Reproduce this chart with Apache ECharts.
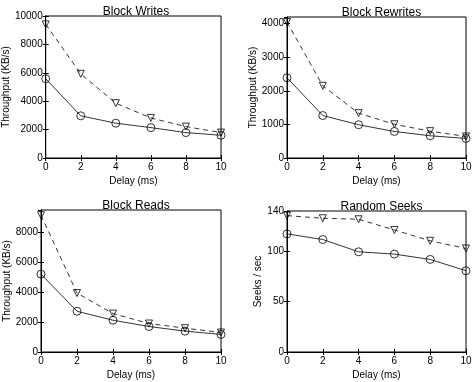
<!DOCTYPE html>
<html>
<head>
<meta charset="utf-8">
<script src="https://cdn.jsdelivr.net/npm/echarts@6/dist/echarts.min.js"></script>
<style>
  html, body { margin: 0; padding: 0; background: #fff; }
  #chart { width: 476px; height: 382px; }
</style>
</head>
<body>
<div id="chart"></div>
<script>
const delays = [0, 2, 4, 6, 8, 10];

const titles = ['Block Writes', 'Block Rewrites', 'Block Reads', 'Random Seeks'];
const yNames = ['Throughput (KB/s)', 'Throughput (KB/s)', 'Throughput (KB/s)', 'Seeks / sec'];

const writesCircle = [5580, 2970, 2450, 2140, 1790, 1600];
const writesTriangle = [9410, 5930, 3860, 2820, 2210, 1790];
const rewritesCircle = [2390, 1265, 990, 790, 662, 583];
const rewritesTriangle = [4050, 2150, 1335, 1005, 800, 642];
const readsCircle = [5210, 2725, 2125, 1705, 1395, 1175];
const readsTriangle = [9150, 3945, 2570, 1905, 1595, 1305];
const seeksCircle = [117.3, 111.7, 99.5, 97.2, 91.9, 80.7];
const seeksTriangle = [135.4, 132.8, 131.8, 121.2, 110.4, 102.8];

const yMax = [10000, 4200, 9500, 140];
const yStep = [2000, 1000, 2000, 50];

const circleData = [writesCircle, rewritesCircle, readsCircle, seeksCircle];
const triangleData = [writesTriangle, rewritesTriangle, readsTriangle, seeksTriangle];

const grids = [
    { left: 41, top: 16, width: 180, height: 142 },
    { left: 287, top: 17, width: 179, height: 141 },
    { left: 41, top: 210, width: 180, height: 142 },
    { left: 287, top: 211, width: 179, height: 141 }
];
const yNameGaps = [27, 26, 27, 18];

const font = 'Liberation Sans, Arial, Helvetica, sans-serif';
const chart = echarts.init(document.getElementById('chart'));

const option = {
    animation: false,
    backgroundColor: '#fff',
    title: [],
    grid: [],
    xAxis: [],
    yAxis: [],
    series: []
};

grids.forEach((g, i) => {
    option.grid.push(Object.assign({ show: true, borderColor: '#000', borderWidth: 1, backgroundColor: 'transparent' }, g));
    option.title.push({
        text: titles[i],
        left: g.left + g.width / 2,
        top: g.top - 15,
        textAlign: 'center',
        textStyle: { fontFamily: font, fontSize: 12, fontWeight: 'normal', color: '#000' }
    });
    // bottom axis with labels
    option.xAxis.push({
        type: 'value', gridIndex: i, min: 0, max: 10, interval: 2,
        name: 'Delay (ms)', nameLocation: 'middle', nameGap: 18,
        nameTextStyle: { fontFamily: font, fontSize: 10, color: '#000' },
        axisLine: { show: true, lineStyle: { color: '#000', width: 1 } },
        axisTick: { show: true, inside: true, length: 3, lineStyle: { color: '#000' } },
        axisLabel: { fontFamily: font, fontSize: 10, color: '#000', margin: 4 },
        splitLine: { show: false }
    });
    // top mirror axis
    option.xAxis.push({
        type: 'value', gridIndex: i, position: 'top', min: 0, max: 10, interval: 2,
        axisLine: { show: true, lineStyle: { color: '#000', width: 1 } },
        axisTick: { show: true, inside: true, length: 3, lineStyle: { color: '#000' } },
        axisLabel: { show: false },
        splitLine: { show: false }
    });
    option.yAxis.push({
        type: 'value', gridIndex: i, min: 0, max: yMax[i], interval: yStep[i],
        name: yNames[i], nameLocation: 'middle', nameGap: yNameGaps[i],
        nameTextStyle: { fontFamily: font, fontSize: 10, color: '#000' },
        axisLine: { show: true, lineStyle: { color: '#000', width: 1 } },
        axisTick: { show: true, inside: true, length: 3, lineStyle: { color: '#000' } },
        axisLabel: {
            fontFamily: font, fontSize: 10, color: '#000', margin: 3,
            formatter: v => String(v),
            showMaxLabel: yMax[i] % yStep[i] === 0 || i === 3
        },
        splitLine: { show: false }
    });
    option.yAxis.push({
        type: 'value', gridIndex: i, position: 'right', min: 0, max: yMax[i], interval: yStep[i],
        axisLine: { show: true, lineStyle: { color: '#000', width: 1 } },
        axisTick: { show: true, inside: true, length: 3, lineStyle: { color: '#000' } },
        axisLabel: { show: false },
        splitLine: { show: false }
    });

    option.series.push({
        type: 'line', xAxisIndex: 2 * i, yAxisIndex: 2 * i,
        data: delays.map((d, k) => [d, triangleData[i][k]]),
        symbol: 'triangle', symbolRotate: 180, symbolSize: 7,
        lineStyle: { color: '#000', width: 0.8, type: [5, 4] },
        itemStyle: { color: 'rgba(0,0,0,0)', borderColor: '#000', borderWidth: 0.8 },
        z: 3
    });
    option.series.push({
        type: 'line', xAxisIndex: 2 * i, yAxisIndex: 2 * i,
        data: delays.map((d, k) => [d, circleData[i][k]]),
        symbol: 'circle', symbolSize: 8,
        lineStyle: { color: '#000', width: 0.8 },
        itemStyle: { color: 'rgba(0,0,0,0)', borderColor: '#000', borderWidth: 0.8 },
        z: 3
    });
});

chart.setOption(option);
</script>
</body>
</html>
